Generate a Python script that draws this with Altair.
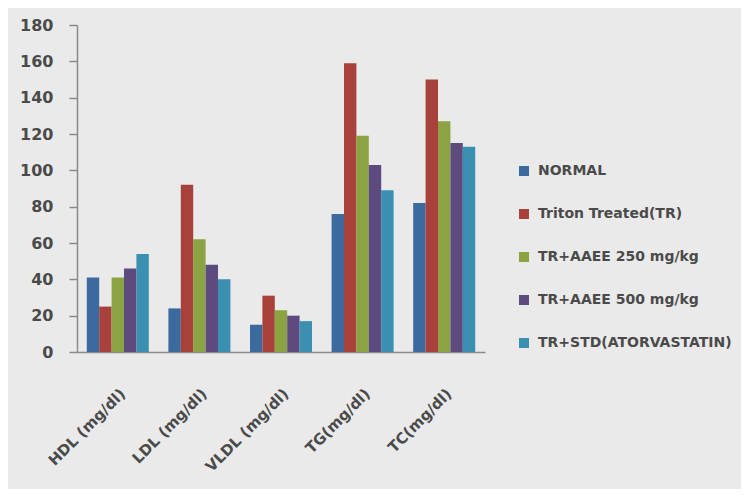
import altair as alt
import pandas as pd

categories = ["HDL (mg/dl)", "LDL (mg/dl)", "VLDL (mg/dl)", "TG(mg/dl)", "TC(mg/dl)"]
series = ["NORMAL", "Triton Treated(TR)", "TR+AAEE 250 mg/kg", "TR+AAEE 500 mg/kg", "TR+STD(ATORVASTATIN)"]
normal = [41, 24, 15, 76, 82]
triton = [25, 92, 31, 159, 150]
aaee250 = [41, 62, 23, 119, 127]
aaee500 = [46, 48, 20, 103, 115]
std = [54, 40, 17, 89, 113]
y_ticks = [0, 20, 40, 60, 80, 100, 120, 140, 160, 180]
colors = ["#3b6a9e", "#a8413b", "#8ca343", "#5d4b80", "#3b8fb0"]

rows = []
for s, vals in zip(series, [normal, triton, aaee250, aaee500, std]):
    for c, v in zip(categories, vals):
        rows.append({"category": c, "series": s, "value": v})
df = pd.DataFrame(rows)

FONT = "DejaVu Sans"
TXT = "#4a4a4a"
AX = "#8a8a8a"

chart = alt.Chart(df).mark_bar().encode(
    x=alt.X("category:N", sort=categories,
            scale=alt.Scale(paddingInner=0.24, paddingOuter=0.12),
            axis=alt.Axis(title=None, labelAngle=-45, labelAlign="right", labelBaseline="top",
                          ticks=False, labelPadding=34, domainColor=AX, domainWidth=1.5,
                          labelFont=FONT, labelFontSize=15, labelFontWeight="bold", labelColor=TXT)),
    xOffset=alt.XOffset("series:N", sort=series, scale=alt.Scale(paddingInner=0, paddingOuter=0)),
    y=alt.Y("value:Q", scale=alt.Scale(domain=[0, 180], nice=False),
            axis=alt.Axis(title=None, values=y_ticks, grid=False, tickSize=8, tickColor=AX, tickWidth=1.5,
                          domainColor=AX, domainWidth=1.5, labelPadding=16,
                          labelFont=FONT, labelFontSize=16, labelFontWeight="bold", labelColor=TXT)),
    color=alt.Color("series:N", sort=series, scale=alt.Scale(domain=series, range=colors),
                    legend=alt.Legend(title=None, orient="none", legendX=440, legendY=139,
                                      symbolType="square", symbolSize=100, symbolStrokeWidth=0,
                                      rowPadding=29, labelOffset=7, labelLimit=400, padding=0,
                                      labelFont=FONT, labelFontSize=14, labelFontWeight="bold",
                                      labelColor=TXT)),
).properties(
    width=408, height=327,
    background="#eaeaea",
    autosize="none",
    padding={"left": 69, "top": 17, "right": 256, "bottom": 137},
).configure_view(stroke=None)

chart.save("out.html", embed_options={"renderer": "svg", "actions": False})
